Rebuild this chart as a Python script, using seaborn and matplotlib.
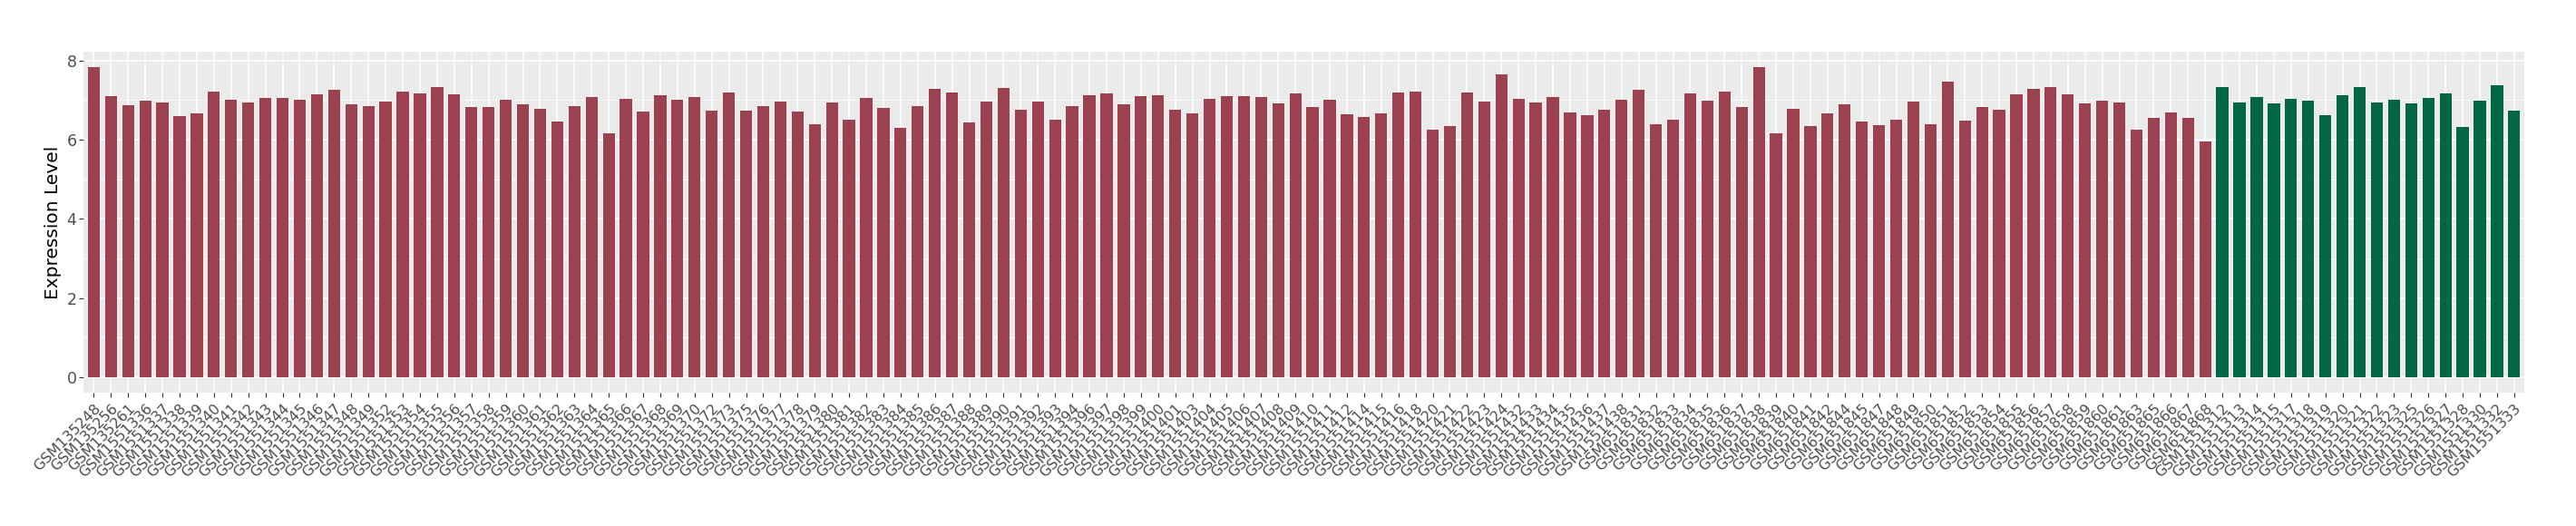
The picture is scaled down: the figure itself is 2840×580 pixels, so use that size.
import matplotlib
matplotlib.use("Agg")
import matplotlib.pyplot as plt
import seaborn as sns
import pandas as pd
from matplotlib.ticker import MultipleLocator

# sample ids, in plotting order
samples = [
    "GSM135248", "GSM135256", "GSM135261", "GSM1551336", "GSM1551337", "GSM1551338",
    "GSM1551339", "GSM1551340", "GSM1551341", "GSM1551342", "GSM1551343", "GSM1551344",
    "GSM1551345", "GSM1551346", "GSM1551347", "GSM1551348", "GSM1551349", "GSM1551352",
    "GSM1551353", "GSM1551354", "GSM1551355", "GSM1551356", "GSM1551357", "GSM1551358",
    "GSM1551359", "GSM1551360", "GSM1551361", "GSM1551362", "GSM1551363", "GSM1551364",
    "GSM1551365", "GSM1551366", "GSM1551367", "GSM1551368", "GSM1551369", "GSM1551370",
    "GSM1551372", "GSM1551373", "GSM1551375", "GSM1551376", "GSM1551377", "GSM1551378",
    "GSM1551379", "GSM1551380", "GSM1551381", "GSM1551382", "GSM1551383", "GSM1551384",
    "GSM1551385", "GSM1551386", "GSM1551387", "GSM1551388", "GSM1551389", "GSM1551390",
    "GSM1551391", "GSM1551392", "GSM1551393", "GSM1551394", "GSM1551396", "GSM1551397",
    "GSM1551398", "GSM1551399", "GSM1551400", "GSM1551401", "GSM1551403", "GSM1551404",
    "GSM1551405", "GSM1551406", "GSM1551407", "GSM1551408", "GSM1551409", "GSM1551410",
    "GSM1551411", "GSM1551412", "GSM1551414", "GSM1551415", "GSM1551416", "GSM1551418",
    "GSM1551420", "GSM1551421", "GSM1551422", "GSM1551423", "GSM1551424", "GSM1551432",
    "GSM1551433", "GSM1551434", "GSM1551435", "GSM1551436", "GSM1551437", "GSM1551438",
    "GSM651831", "GSM651832", "GSM651833", "GSM651834", "GSM651835", "GSM651836",
    "GSM651837", "GSM651838", "GSM651839", "GSM651840", "GSM651841", "GSM651842",
    "GSM651844", "GSM651845", "GSM651847", "GSM651848", "GSM651849", "GSM651850",
    "GSM651851", "GSM651852", "GSM651853", "GSM651854", "GSM651855", "GSM651856",
    "GSM651857", "GSM651858", "GSM651859", "GSM651860", "GSM651861", "GSM651863",
    "GSM651865", "GSM651866", "GSM651867", "GSM651868",
    "GSM1551312", "GSM1551313", "GSM1551314", "GSM1551315", "GSM1551317", "GSM1551318",
    "GSM1551319", "GSM1551320", "GSM1551321", "GSM1551322", "GSM1551323", "GSM1551325",
    "GSM1551326", "GSM1551327", "GSM1551328", "GSM1551330", "GSM1551332", "GSM1551333",
]

# expression values
expression = [
    7.83, 7.10, 6.87, 6.99, 6.94, 6.60, 6.66, 7.21, 7.01, 6.94, 7.05, 7.05,
    7.01, 7.15, 7.26, 6.89, 6.85, 6.96, 7.21, 7.17, 7.32, 7.15, 6.82, 6.82,
    7.01, 6.89, 6.78, 6.46, 6.85, 7.08, 6.16, 7.03, 6.71, 7.12, 7.01, 7.08,
    6.73, 7.19, 6.73, 6.85, 6.96, 6.71, 6.39, 6.94, 6.50, 7.05, 6.80, 6.30,
    6.85, 7.28, 7.19, 6.44, 6.96, 7.31, 6.76, 6.96, 6.50, 6.85, 7.12, 7.17,
    6.89, 7.10, 7.12, 6.76, 6.66, 7.03, 7.10, 7.10, 7.08, 6.92, 7.17, 6.82,
    7.01, 6.64, 6.57, 6.66, 7.19, 7.21, 6.25, 6.34, 7.19, 6.96, 7.65, 7.03,
    6.94, 7.08, 6.69, 6.62, 6.76, 7.01,
    7.26, 6.39, 6.50, 7.17, 6.99, 7.21, 6.82, 7.83, 6.16, 6.78, 6.34, 6.66,
    6.89, 6.46, 6.37, 6.50, 6.96, 6.39, 7.47, 6.48, 6.82, 6.76, 7.15, 7.28,
    7.32, 7.15, 6.92, 6.99, 6.94, 6.25, 6.55, 6.69, 6.55, 5.95,
    7.32, 6.94, 7.08, 6.92, 7.03, 6.99, 6.62, 7.12, 7.32, 6.94, 7.01, 6.92,
    7.05, 7.17, 6.32, 6.99, 7.37, 6.73,
]

# sample group per bar
group = ["Tumor"] * 124 + ["Normal"] * 18

colors = {"Tumor": "#9B4150", "Normal": "#006646"}

df = pd.DataFrame({"sample": samples, "expr": expression, "group": group})

fig = plt.figure(figsize=(28.4, 5.8), dpi=100)
ax = fig.add_axes([0.0324, 0.2534, 0.9476, 0.6483])

sns.barplot(data=df, x="sample", y="expr", hue="group", order=samples,
            palette=colors, dodge=False, width=0.7, legend=False,
            saturation=1, ax=ax, zorder=3)

# ggplot-ish grey panel
ax.set_facecolor("#EBEBEB")
for s in ax.spines.values():
    s.set_visible(False)
ax.set_axisbelow(True)
ax.yaxis.set_major_locator(MultipleLocator(2))
ax.yaxis.set_minor_locator(MultipleLocator(1))
ax.grid(which="major", color="white", linewidth=1.1)
ax.grid(which="minor", axis="y", color="white", linewidth=0.55)
ax.tick_params(axis="y", which="minor", length=0)
ax.tick_params(which="major", length=3.5, width=0.8, color="#333333",
               labelcolor="#4D4D4D")
ax.tick_params(axis="y", labelsize=12.5, pad=2)

n = len(samples)
ax.set_xlim(-0.6, n - 0.4)
ax.set_ylim(-0.39, 8.22)

ax.set_xticks(range(n))
ax.set_xticklabels(samples, rotation=45, ha="right", va="top",
                   rotation_mode="anchor", fontsize=11.5)

ax.set_xlabel("")
ax.set_ylabel("Expression Level", fontsize=14.5, color="black", labelpad=4)

fig.savefig("out.png", dpi=100)
